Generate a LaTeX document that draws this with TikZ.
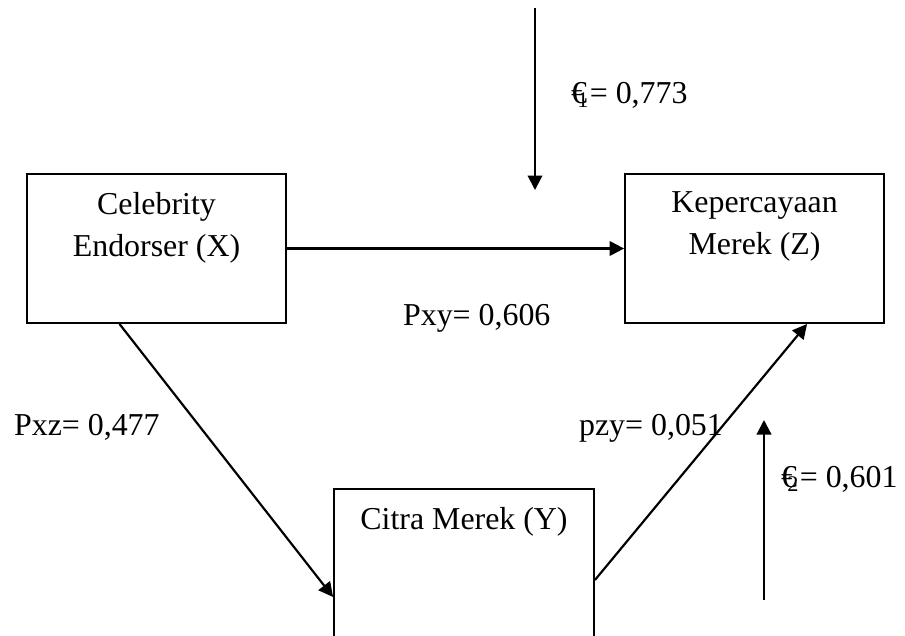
\documentclass[tikz,border=0pt]{standalone}
\usepackage{fontspec}
\setmainfont{Liberation Serif}
\usetikzlibrary{arrows.meta,positioning,calc}
\tikzset{
    varbox/.style = {rectangle,
                    fill=white,
                    draw=black,
                    line width=0.8pt,
                    minimum width=107.2pt,
                    minimum height=61.7pt},
    boxtext/.style = {align=center,
                    anchor=north,
                    inner sep=0pt,
                    yshift=-7.4pt,
                    font=\fontsize{13.2}{17.4}\selectfont},
    coef/.style =   {anchor=base west,
                    inner sep=0pt,
                    font=\fontsize{13.2}{15}\selectfont},
    >={Triangle[length=6pt,width=6pt]},
    node distance=247.6pt}

\begin{document}
\begin{tikzpicture}[x=0.414pt,y=-0.414pt,line width=0.9pt]
                \useasboundingbox (0,0) rectangle (905,635);
                \clip (0,0) rectangle (905,635);
                \node[varbox]       (X) at (156.5,248.5) [label={[boxtext]north:Celebrity\\Endorser (X)}]       {};
                \node[varbox]       (Z) [right of=X,label={[boxtext]north:Kepercayaan\\Merek (Z)}]             {};
                \node[varbox]       (Y) at (464,569) [minimum width=107.6pt,minimum height=66.2pt,
                                        label={[boxtext]north:Citra Merek (Y)}]                                {};

                \coordinate         (e1a) at (535,8);
                \coordinate         (e1b) at (535,190);
                \coordinate         (e2a) at (764,600);
                \coordinate         (e2b) at (764,420);

                \node[coef]         (pxy) at (402,325)  {Pxy= 0,606};
                \node[coef]         (pxz) at (13,435)   {Pxz= 0,477};
                \node[coef]         (pzy) at (578,435)  {pzy= 0,051};
                \node[coef]         (r1)  at (570,103)  {€\kern-0.3em\textsubscript{1}= 0,773};
                \node[coef]         (r2)  at (780,487)  {€\kern-0.3em\textsubscript{2}= 0,601};

                \path [->]  (X) edge []     (Z)
                            ($(X.south)+(-37,0)$) edge []   ($(Y.west)+(0,28)$)
                            ($(Y.east)+(0,11)$) edge []     ($(Z.south)+(52.5,0)$)
                            (e1a) edge []   (e1b)
                            (e2a) edge []   (e2b);
        \end{tikzpicture}
\end{document}
